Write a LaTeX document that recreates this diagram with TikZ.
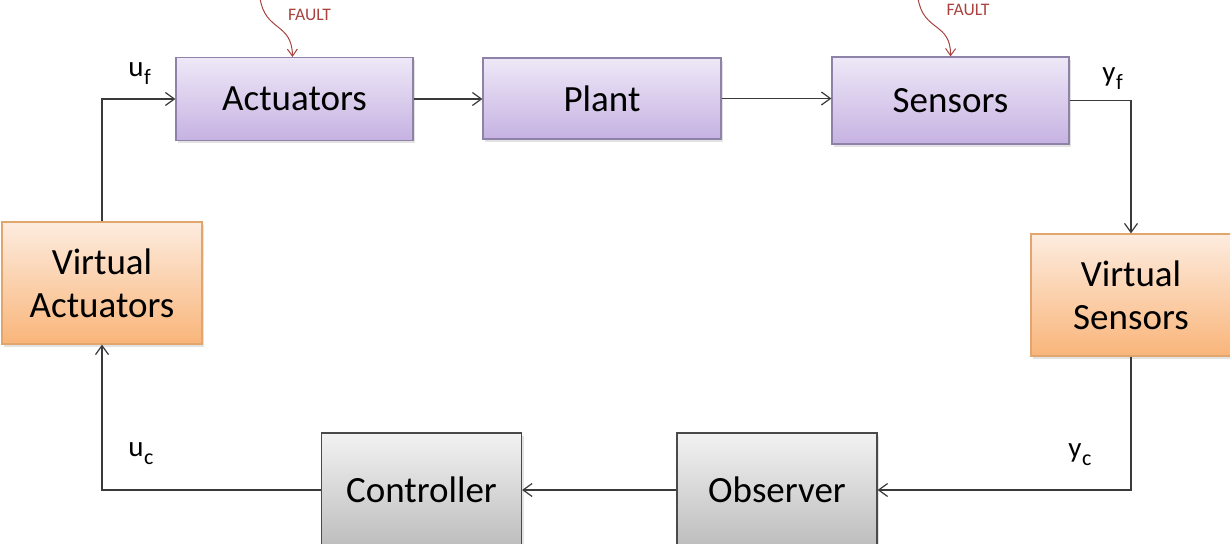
\documentclass[tikz,border=0pt]{standalone}
\usepackage{fontspec}
\setmainfont{Carlito}
\usetikzlibrary{arrows.meta,shadows}

\definecolor{purpTop}{HTML}{EEE8F7}
\definecolor{purpBot}{HTML}{C6B2E2}
\definecolor{purpLine}{HTML}{8F82A9}
\definecolor{orTop}{HTML}{FDECDF}
\definecolor{orBot}{HTML}{F9B57A}
\definecolor{orLine}{HTML}{E0A66E}
\definecolor{grTop}{HTML}{F2F2F2}
\definecolor{grBot}{HTML}{BDBDBD}
\definecolor{grLine}{HTML}{4A4A4A}
\definecolor{wire}{HTML}{3A3A3A}
\definecolor{faultRed}{HTML}{A8433F}

% signal name with a lowered subscript
\newcommand{\signame}[2]{#1\kern0.3pt\raisebox{-4pt}{\fontsize{11}{12}\selectfont #2}}

\begin{document}
\begin{tikzpicture}[x=0.5pt,y=-0.5pt,
  blk/.style={rectangle, inner sep=0pt, align=center,
    font=\fontsize{18.5}{21.5}\selectfont, line width=0.6pt,
    drop shadow={opacity=0.22, shadow xshift=1pt, shadow yshift=-1.3pt}},
  hwbox/.style={blk, draw=purpLine, top color=purpTop, bottom color=purpBot},
  virtbox/.style={blk, draw=orLine, top color=orTop, bottom color=orBot,
    minimum width=100pt, minimum height=61pt},
  swbox/.style={blk, draw=grLine, top color=grTop, bottom color=grBot,
    minimum width=100pt, minimum height=57pt},
  wireline/.style={draw=wire, line width=0.7pt},
  arr/.style={wireline, -{Straight Barb[length=4.5pt,width=6.5pt,line width=0.6pt]}},
  sig/.style={anchor=base west, inner sep=0pt, font=\fontsize{14.5}{16}\selectfont},
  faultlbl/.style={inner sep=0pt, text=faultRed, font=\fontsize{8.8}{10}\selectfont},
  faultarr/.style={draw=faultRed, line width=0.5pt,
    -{Straight Barb[length=3.5pt,width=5pt,line width=0.5pt]}}
]
\useasboundingbox (0,0) rectangle (1230,544);
\clip (0,0) rectangle (1230,544);

% forward path
\node[hwbox, minimum width=118.5pt, minimum height=41.5pt] (act)  at (294.5,99)  {Actuators};
\node[hwbox, minimum width=119pt,   minimum height=40.5pt] (plant) at (602,98.5)  {Plant};
\node[hwbox, minimum width=118.5pt, minimum height=43.5pt] (sens) at (950.5,100.5) {Sensors};

% reconfiguration blocks
\node[virtbox] (vact)  at (102,283)  {Virtual\\Actuators};
\node[virtbox] (vsens) at (1131,295) {Virtual\\Sensors};

% estimation and control
\node[swbox] (ctrl) at (421.5,490) {Controller};
\node[swbox] (obs)  at (777,490)   {Observer};

% signal flow
\draw[arr] (vact.north) |- (act.west);
\draw[arr] (act.east) -- (plant.west |- act.east);
\draw[arr] (plant.east) -- (sens.west |- plant.east);
\draw[arr] (sens.east) -| (vsens.north);
\draw[arr] (vsens.south) |- (obs.east);
\draw[arr] (obs.west) -- (ctrl.east);
\draw[arr] (ctrl.west) -| (vact.south);

% signal names
\node[sig] (uf) at (128,77)   {\signame{u}{f}};
\node[sig] (uc) at (128,457)  {\signame{u}{c}};
\node[sig] (yf) at (1102,82)  {\signame{y}{f}};
\node[sig] (yc) at (1068,458) {\signame{y}{c}};

% fault injections
\coordinate (f1) at (260,-2);
\coordinate (f2) at (918,-2);
\draw[faultarr] (f1) .. controls (265,32) and (292,22) .. ([xshift=-1pt]act.north);
\draw[faultarr] (f2) .. controls (923,32) and (951,22) .. (sens.north);
\node[faultlbl] (fl1) at (309.5,14.5) {FAULT};
\node[faultlbl] (fl2) at (968,10)     {FAULT};
\end{tikzpicture}
\end{document}
